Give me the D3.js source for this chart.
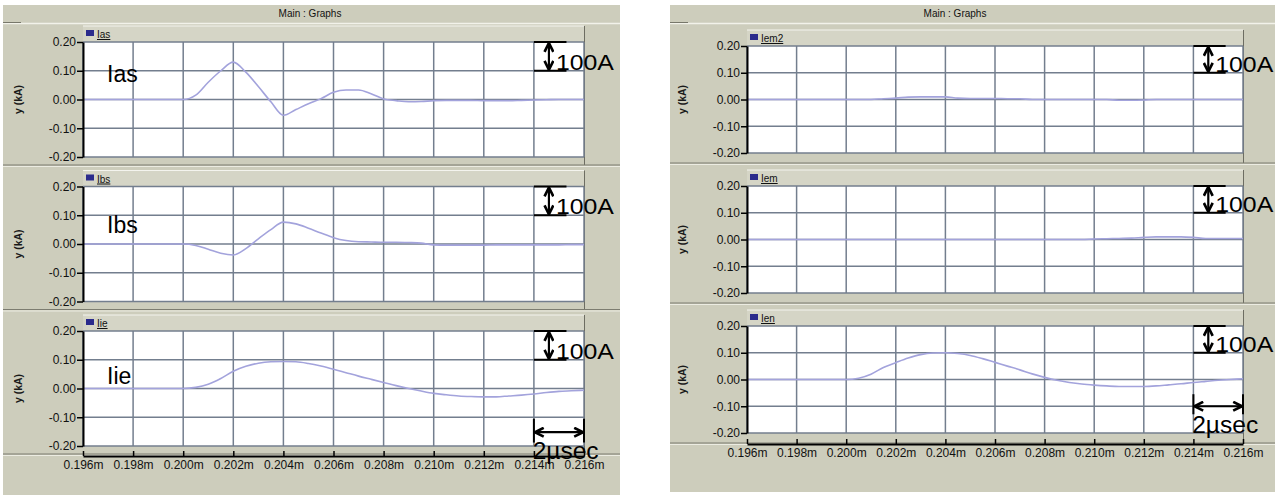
<!DOCTYPE html>
<html>
<head>
<meta charset="utf-8">
<script src="https://cdn.jsdelivr.net/npm/d3@7"></script>
<style>
    body { margin: 0; background: #fff; }
    svg { display: block; font-family: "Liberation Sans", Arial, sans-serif; }
    .title { font-size: 10px; fill: #111; }
    .axis text { font-family: "Liberation Sans", Arial, sans-serif; font-size: 12px; fill: #111; }
    .yLabel { font-size: 10.5px; font-weight: bold; fill: #1a1a1a; }
    .legendText { font-size: 10px; fill: #111; text-decoration: underline; }
    .bigLabel { font-size: 23px; fill: #000; }
    .note { font-size: 22px; fill: #000; }
</style>
</head>
<body>
<script>
(function() {

    //time samples (ms)
    var times = [
        0.1960, 0.1965, 0.1970, 0.1975, 0.1980, 0.1985, 0.1990, 0.1995,
        0.2000, 0.2005, 0.2010, 0.2015, 0.2020, 0.2025, 0.2030, 0.2035,
        0.2040, 0.2045, 0.2050, 0.2055, 0.2060, 0.2065, 0.2070, 0.2075,
        0.2080, 0.2085, 0.2090, 0.2095, 0.2100, 0.2105, 0.2110, 0.2115,
        0.2120, 0.2125, 0.2130, 0.2135, 0.2140, 0.2145, 0.2150, 0.2155, 0.2160
    ];

    //currents in kA
    var ias = [
        0, 0, 0, 0, 0, 0, 0, 0,
        0, 0.015, 0.06, 0.10, 0.13, 0.095, 0.045, -0.008,
        -0.055, -0.035, -0.015, 0.003, 0.025, 0.033, 0.033, 0.02,
        0.002, -0.004, -0.008, -0.007, -0.004, -0.003, -0.003, -0.003,
        -0.004, -0.004, -0.004, -0.003, -0.002, -0.001, 0, 0, 0
    ];
    var ibs = [
        0, 0, 0, 0, 0, 0, 0, 0,
        0, -0.005, -0.018, -0.032, -0.038, -0.016, 0.018, 0.05,
        0.076, 0.07, 0.055, 0.038, 0.022, 0.012, 0.008, 0.007,
        0.006, 0.006, 0.005, 0.003, -0.003, -0.004, -0.004, -0.004,
        -0.004, -0.003, -0.003, -0.003, -0.003, -0.003, -0.003, -0.002, -0.002
    ];
    var iie = [
        0, 0, 0, 0, 0, 0, 0, 0,
        0, 0.004, 0.015, 0.035, 0.06, 0.077, 0.088, 0.093,
        0.094, 0.093, 0.087, 0.078, 0.067, 0.055, 0.043, 0.032,
        0.021, 0.01, 0, -0.009, -0.017, -0.022, -0.026, -0.028,
        -0.029, -0.029, -0.026, -0.023, -0.019, -0.014, -0.01, -0.008, -0.006
    ];
    var iem2 = [
        0, 0, 0, 0, 0, 0, 0, 0,
        0, 0, 0, 0.003, 0.005, 0.009, 0.01, 0.01,
        0.01, 0.005, 0.004, 0.004, 0.004, 0.003, 0.003, 0,
        0, 0, 0, 0, 0, 0, -0.003, -0.003,
        -0.002, 0, 0, 0, 0, 0, 0, 0, 0
    ];
    var iem = [
        0, 0, 0, 0, 0, 0, 0, 0,
        0, 0, 0, 0, 0, 0, 0, 0,
        0, 0, 0, 0, 0, 0, 0, 0,
        0, 0, 0, 0, 0.002, 0.003, 0.004, 0.005,
        0.008, 0.01, 0.01, 0.01, 0.008, 0.004, 0.004, 0.004, 0.004
    ];
    var ien = [
        0, 0, 0, 0, 0, 0, 0, 0,
        0, 0.005, 0.02, 0.045, 0.063, 0.08, 0.093, 0.099,
        0.1, 0.097, 0.09, 0.078, 0.064, 0.05, 0.036, 0.021,
        0.008, -0.003, -0.011, -0.017, -0.021, -0.024, -0.026, -0.026,
        -0.026, -0.024, -0.02, -0.016, -0.011, -0.007, -0.003, 0, 0.003
    ];

    var leftNames = ["Ias", "Ibs", "Iie"];
    var rightNames = ["Iem2", "Iem", "Ien"];
    var xTicks = [0.196, 0.198, 0.200, 0.202, 0.204, 0.206, 0.208, 0.210, 0.212, 0.214, 0.216];
    var yTicks = [0.20, 0.10, 0.00, -0.10, -0.20];

    //colours
    var bgColor = "#cdcdbc",
        headColor = "#d5d5c6",
        gridColor = "#737e8e",
        traceColor = "#a3a3dc";

    var svg = d3.select("body")
        .append("svg")
        .attr("width", 1275)
        .attr("height", 495);

    //chevron arrow head
    svg.append("defs").append("marker")
        .attr("id", "chev")
        .attr("viewBox", "0 0 10 10")
        .attr("refX", 9)
        .attr("refY", 5)
        .attr("markerUnits", "userSpaceOnUse")
        .attr("markerWidth", 11)
        .attr("markerHeight", 11)
        .attr("orient", "auto-start-reverse")
        .append("path")
        .attr("d", "M1,1 L9,5 L1,9")
        .attr("fill", "none")
        .attr("stroke", "#000")
        .attr("stroke-width", 2.4);

    var figures = [
        {
            x0: 3, x1: 620, y0: 5, y1: 495,
            plotL: 83, plotR: 584, tops: [42, 186.5, 331], h: 115, sepGap: 8,
            axisY: 456, titleX: 310, yLabelX: 18,
            names: leftNames, series: [ias, ibs, iie],
            bigLabelV: [0.062, 0.039, 0.015],
            secArrowV: -0.152, secBarV: [-0.105, -0.188], secTextV: -0.246
        },
        {
            x0: 670, x1: 1275, y0: 5, y1: 492,
            plotL: 747, plotR: 1243, tops: [46, 186, 326], h: 107, sepGap: 10,
            axisY: 444, titleX: 955, yLabelX: 682,
            names: rightNames, series: [iem2, iem, ien],
            bigLabelV: null,
            secArrowV: -0.1, secBarV: [-0.055, -0.13], secTextV: -0.2
        }
    ];

    figures.forEach(function(fig) {
        drawFigure(fig);
    });

    function drawFigure(fig) {
        var g = svg.append("g");

        //figure background
        g.append("rect")
            .attr("x", fig.x0)
            .attr("y", fig.y0)
            .attr("width", fig.x1 - fig.x0)
            .attr("height", fig.y1 - fig.y0)
            .attr("fill", bgColor);

        //title bar
        g.append("text")
            .attr("class", "title")
            .attr("x", fig.titleX)
            .attr("y", fig.y0 + 12)
            .attr("text-anchor", "middle")
            .text("Main : Graphs");
        g.append("line")
            .attr("x1", fig.x0).attr("x2", fig.x1)
            .attr("y1", fig.y0 + 18.5).attr("y2", fig.y0 + 18.5)
            .attr("stroke", "#f2f2ea").attr("stroke-width", 1.5);
        g.append("line")
            .attr("x1", fig.x0).attr("x2", fig.x0 + 18)
            .attr("y1", fig.y0 + 17.5).attr("y2", fig.y0 + 17.5)
            .attr("stroke", "#77776a").attr("stroke-width", 1);

        var x = d3.scaleLinear()
            .domain([xTicks[0], xTicks[xTicks.length - 1]])
            .range([fig.plotL, fig.plotR]);

        fig.series.forEach(function(values, i) {
            var top = fig.tops[i],
                bottom = top + fig.h;

            var y = d3.scaleLinear()
                .domain([yTicks[yTicks.length - 1], yTicks[0]])
                .range([bottom, top]);

            //header strip with legend
            g.append("rect")
                .attr("x", fig.plotL)
                .attr("y", top - 16)
                .attr("width", fig.plotR - fig.plotL)
                .attr("height", 16)
                .attr("fill", headColor);
            g.append("line")
                .attr("x1", fig.plotL).attr("x2", fig.plotR)
                .attr("y1", top - 16).attr("y2", top - 16)
                .attr("stroke", "#f4f4ee").attr("stroke-width", 1);
            g.append("rect")
                .attr("x", fig.plotL + 3)
                .attr("y", top - 12)
                .attr("width", 8)
                .attr("height", 6)
                .attr("fill", "#2b2b8c");
            g.append("text")
                .attr("class", "legendText")
                .attr("x", fig.plotL + 14)
                .attr("y", top - 4)
                .text(fig.names[i]);

            //panel right edge and separator
            g.append("line")
                .attr("x1", fig.plotR + 0.5).attr("x2", fig.plotR + 0.5)
                .attr("y1", top - 16).attr("y2", bottom + fig.sepGap)
                .attr("stroke", "#6d6d62").attr("stroke-width", 1);
            g.append("line")
                .attr("x1", fig.x0).attr("x2", fig.x1)
                .attr("y1", bottom + fig.sepGap).attr("y2", bottom + fig.sepGap)
                .attr("stroke", "#7c7c70").attr("stroke-width", 1.2);
            g.append("line")
                .attr("x1", fig.x0).attr("x2", fig.x1)
                .attr("y1", bottom + fig.sepGap + 1.5).attr("y2", bottom + fig.sepGap + 1.5)
                .attr("stroke", "#ececE2").attr("stroke-width", 1);

            //plot area
            g.append("rect")
                .attr("x", fig.plotL)
                .attr("y", top)
                .attr("width", fig.plotR - fig.plotL)
                .attr("height", fig.h)
                .attr("fill", "#fff");

            //grid
            g.append("g")
                .selectAll("line")
                .data(xTicks)
                .enter()
                .append("line")
                .attr("x1", d => x(d)).attr("x2", d => x(d))
                .attr("y1", top).attr("y2", bottom)
                .attr("stroke", gridColor).attr("stroke-width", 1.5);
            g.append("g")
                .selectAll("line")
                .data(yTicks)
                .enter()
                .append("line")
                .attr("x1", fig.plotL).attr("x2", fig.plotR)
                .attr("y1", d => y(d)).attr("y2", d => y(d))
                .attr("stroke", gridColor).attr("stroke-width", 1.5);

            //trace
            var line = d3.line()
                .x((d, j) => x(times[j]))
                .y(d => y(d))
                .curve(d3.curveMonotoneX);
            g.append("path")
                .datum(values)
                .attr("d", line)
                .attr("fill", "none")
                .attr("stroke", traceColor)
                .attr("stroke-width", 1.6);

            //y axis
            var yAxis = d3.axisLeft(y)
                .tickValues(yTicks)
                .tickFormat(d => d.toFixed(2))
                .tickSizeInner(6)
                .tickSizeOuter(0)
                .tickPadding(1);
            var ax = g.append("g")
                .attr("class", "axis")
                .attr("transform", "translate(" + fig.plotL + ",0)")
                .call(yAxis);
            ax.select(".domain").attr("stroke", "#000").attr("stroke-width", 2);
            ax.selectAll(".tick line").attr("stroke", "#000").attr("stroke-width", 1.5);

            g.append("text")
                .attr("class", "yLabel")
                .attr("transform", "translate(" + fig.yLabelX + "," + y(0) + ") rotate(-90)")
                .attr("text-anchor", "middle")
                .attr("dy", "0.35em")
                .text("y (kA)");

            //big trace name
            if (fig.bigLabelV) {
                g.append("text")
                    .attr("class", "bigLabel")
                    .attr("x", x(0.19696))
                    .attr("y", y(fig.bigLabelV[i]))
                    .text(fig.names[i]);
            }

            //100A scale mark
            [0.20, 0.10].forEach(function(v) {
                g.append("line")
                    .attr("x1", x(0.2140)).attr("x2", x(0.2153))
                    .attr("y1", y(v)).attr("y2", y(v))
                    .attr("stroke", "#000").attr("stroke-width", 2);
            });
            g.append("line")
                .attr("x1", x(0.2146)).attr("x2", x(0.2146))
                .attr("y1", y(0.20) + 1).attr("y2", y(0.10) - 1)
                .attr("stroke", "#000").attr("stroke-width", 2.2)
                .attr("marker-start", "url(#chev)")
                .attr("marker-end", "url(#chev)");
            g.append("text")
                .attr("class", "note")
                .attr("x", x(0.21488))
                .attr("y", y(0.103))
                .attr("textLength", 58)
                .attr("lengthAdjust", "spacingAndGlyphs")
                .text("100A");

            //2 usec scale mark on the last panel
            if (i === fig.series.length - 1) {
                [0.214, 0.216].forEach(function(t) {
                    g.append("line")
                        .attr("x1", x(t)).attr("x2", x(t))
                        .attr("y1", y(fig.secBarV[0])).attr("y2", y(fig.secBarV[1]))
                        .attr("stroke", "#000").attr("stroke-width", 2);
                });
                g.append("line")
                    .attr("x1", x(0.214) + 1).attr("x2", x(0.216) - 1)
                    .attr("y1", y(fig.secArrowV)).attr("y2", y(fig.secArrowV))
                    .attr("stroke", "#000").attr("stroke-width", 2.2)
                    .attr("marker-start", "url(#chev)")
                    .attr("marker-end", "url(#chev)");
                fig.secY = y(fig.secTextV);
            }
        });

        //x axis under the last panel
        var xAxis = d3.axisBottom(x)
            .tickValues(xTicks)
            .tickFormat(d => d.toFixed(3) + "m")
            .tickSizeInner(-5)
            .tickSizeOuter(0)
            .tickPadding(4);
        var xa = g.append("g")
            .attr("class", "axis")
            .attr("transform", "translate(0," + fig.axisY + ")")
            .call(xAxis);
        xa.select(".domain").attr("stroke", "#000").attr("stroke-width", 2);
        xa.selectAll(".tick line").attr("stroke", "#000").attr("stroke-width", 1.5);

        //2 usec label, sits over the axis as in the source
        g.append("text")
            .attr("class", "note")
            .attr("x", x(0.21395))
            .attr("y", fig.secY)
            .attr("textLength", 66)
            .attr("lengthAdjust", "spacingAndGlyphs")
            .style("font-size", "24px")
            .text("2\u00b5sec");
    }

})();
</script>
</body>
</html>
